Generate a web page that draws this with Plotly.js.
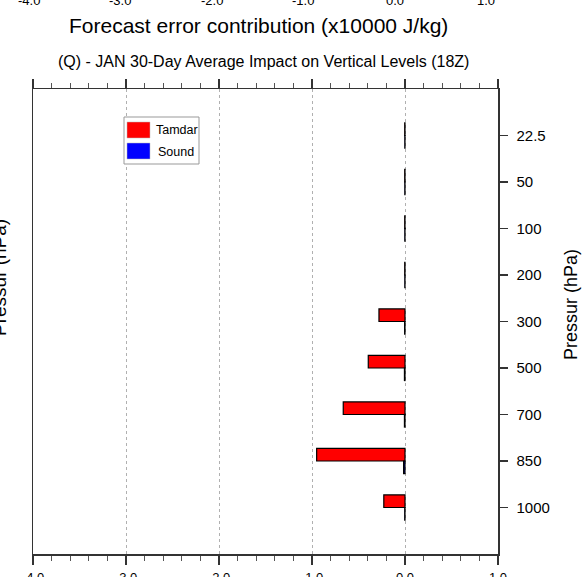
<!DOCTYPE html>
<html>
<head>
<meta charset="utf-8">
<script src="https://cdn.plot.ly/plotly-3.0.1.min.js"></script>
<style>html,body{margin:0;padding:0;background:#fff;}#chart{width:586px;height:577px;}</style>
</head>
<body>
<div id="chart"></div>
<script>
// ---- data ----
var levels = ["22.5", "50", "100", "200", "300", "500", "700", "850", "1000"];
var seriesNames = ["Tamdar", "Sound"];
var tamdar = [-0.003, -0.003, -0.003, -0.003, -0.28, -0.395, -0.664, -0.95, -0.228];
var sound = [-0.002, -0.002, -0.002, -0.002, -0.004, -0.006, -0.006, -0.015, -0.003];
var xTickLabels = ["-4.0", "-3.0", "-2.0", "-1.0", "0.0", "1.0"];
var xTickVals = [-4, -3, -2, -1, 0, 1];
var seriesColors = ["#ff0000", "#0000ff"];

// ---- layout helpers (pixel -> paper) ----
var L = 33, R = 88, T = 89, B = 23, W = 586, H = 577;
var PW = W - L - R, PH = H - T - B;
function px(x) { return (x - L) / PW; }
function py(y) { return 1 - (y - T) / PH; }

var FONT = "Liberation Sans, Arial, Helvetica, sans-serif";
var AX = "#333333";

var traces = [
  {
    type: "bar", orientation: "h", name: seriesNames[0],
    y: levels, x: tamdar, width: 0.27, offset: -0.27,
    marker: { color: seriesColors[0], line: { color: "#000", width: 1.2 } },
    showlegend: false, hoverinfo: "x+y"
  },
  {
    type: "bar", orientation: "h", name: seriesNames[1],
    y: levels, x: sound, width: 0.27, offset: 0,
    marker: { color: seriesColors[1], line: { color: "#000", width: 1.2 } },
    showlegend: false, hoverinfo: "x+y"
  }
];

var annotations = [];
// cut-off tick labels of the panel above
xTickVals.forEach(function (v, i) {
  annotations.push({
    xref: "x", yref: "paper", x: v, y: py(0), text: xTickLabels[i],
    showarrow: false, xanchor: "center", yanchor: "middle",
    xshift: -4.5 - (v + 4) * 1.5,
    font: { family: FONT, size: 13, color: "#000" }
  });
});
// x-axis title of the panel above
annotations.push({
  xref: "paper", yref: "paper", x: px(258), y: py(26),
  text: "Forecast error contribution (x10000 J/kg)", showarrow: false,
  xanchor: "center", yanchor: "middle", font: { family: FONT, size: 21, color: "#000" }
});
// panel title
annotations.push({
  xref: "paper", yref: "paper", x: px(263), y: py(62),
  text: "(Q) - JAN 30-Day Average Impact on Vertical Levels (18Z)", showarrow: false,
  xanchor: "center", yanchor: "middle", font: { family: FONT, size: 16, color: "#000" }
});
// right axis title
annotations.push({
  xref: "paper", yref: "paper", x: px(571), y: py(305),
  text: "Pressur (hPa)", showarrow: false, textangle: -90,
  xanchor: "center", yanchor: "middle", font: { family: FONT, size: 18, color: "#000" }
});
// cut-off axis title of the panel on the left
annotations.push({
  xref: "paper", yref: "paper", x: px(-1), y: py(278),
  text: "Pressur (hPa)", showarrow: false, textangle: -90,
  xanchor: "center", yanchor: "middle", font: { family: FONT, size: 19, color: "#000" }
});
// legend text
annotations.push({
  xref: "paper", yref: "paper", x: px(176.5), y: py(130), text: seriesNames[0],
  showarrow: false, xanchor: "center", yanchor: "middle",
  font: { family: FONT, size: 12.5, color: "#000" }
});
annotations.push({
  xref: "paper", yref: "paper", x: px(176), y: py(152), text: seriesNames[1],
  showarrow: false, xanchor: "center", yanchor: "middle",
  font: { family: FONT, size: 12.5, color: "#000" }
});

var shapes = [
  { type: "rect", xref: "paper", yref: "paper", x0: px(124), x1: px(199), y0: py(117), y1: py(164),
    line: { color: "#999", width: 1 }, fillcolor: "#fff" },
  { type: "rect", xref: "paper", yref: "paper", x0: px(127), x1: px(150), y0: py(122), y1: py(138),
    line: { color: "#bbb", width: 0.5 }, fillcolor: seriesColors[0] },
  { type: "rect", xref: "paper", yref: "paper", x0: px(127), x1: px(150), y0: py(143), y1: py(159),
    line: { color: "#bbb", width: 0.5 }, fillcolor: seriesColors[1] }
];

var layout = {
  width: W, height: H,
  margin: { l: L, r: R, t: T, b: B, pad: 0 },
  paper_bgcolor: "#fff", plot_bgcolor: "#fff",
  showlegend: false,
  barmode: "overlay",
  font: { family: FONT, size: 12, color: "#000" },
  xaxis: {
    range: [-4, 1], tickvals: xTickVals, ticktext: xTickLabels,
    showgrid: true, gridcolor: "#b0b0b0", griddash: "dot", gridwidth: 1,
    zeroline: false, showline: true, linecolor: AX, linewidth: 1.5, mirror: "ticks",
    ticks: "outside", ticklen: 9, tickwidth: 1.3, tickcolor: AX,
    ticklabelstandoff: 2,
    minor: { dtick: 0.2, tick0: 0, ticks: "outside", ticklen: 5, tickwidth: 1, tickcolor: "#555", showgrid: false },
    tickfont: { family: FONT, size: 13, color: "#000" }, fixedrange: true
  },
  yaxis: {
    type: "category", categoryorder: "array", categoryarray: levels,
    range: [9, -1], side: "right",
    showgrid: false, zeroline: false, showline: true, linecolor: AX, linewidth: 1.5, mirror: true,
    ticks: "outside", ticklen: 8, tickwidth: 1.2, tickcolor: AX,
    ticklabelstandoff: 6,
    tickfont: { family: FONT, size: 15, color: "#000" }, fixedrange: true
  },
  annotations: annotations,
  shapes: shapes
};

Plotly.newPlot("chart", traces, layout, { displayModeBar: false, staticPlot: true });
</script>
</body>
</html>
